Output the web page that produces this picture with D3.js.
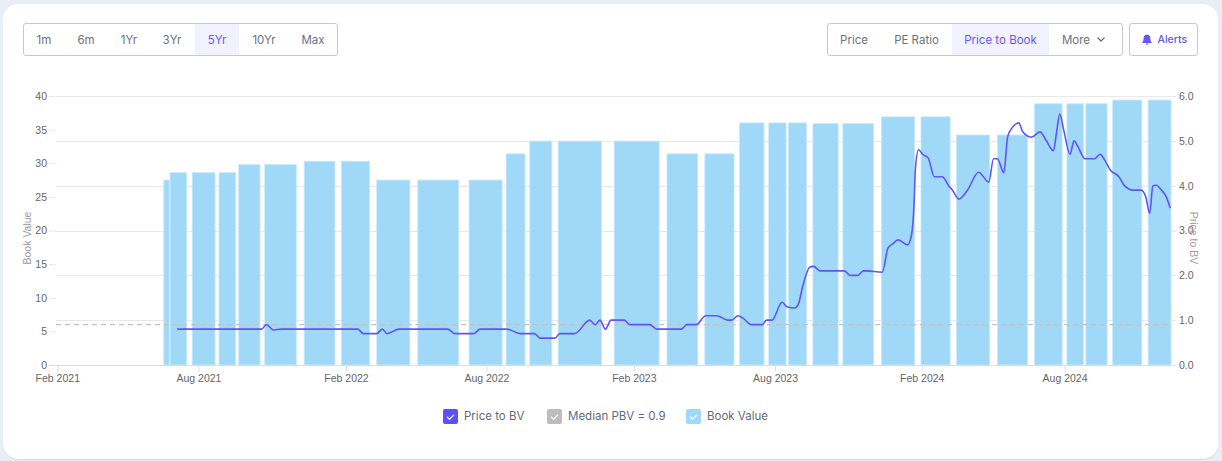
<!DOCTYPE html>
<meta charset="utf-8">
<style>
	html, body { margin: 0; padding: 0; background: #e9edf6; overflow: hidden; }
	svg { display: block; }
	text { font-family: Inter, "Noto Sans", sans-serif; }
	.axis text { font-family: "Liberation Sans", Arial, sans-serif; font-size: 10.5px; fill: #666; }
</style>
<body>
<svg id="chart" width="1222" height="461"></svg>
<script src="https://cdn.jsdelivr.net/npm/d3@7"></script>
<script>
	// first day of the x axis, everything below is counted in days from here
	var startDate = new Date(2021, 1, 1);
	var lastDay = 1412;

	var tickDays = [0, 179, 366, 544, 731, 910, 1096, 1277];
	var tickLabels = ["Feb 2021", "Aug 2021", "Feb 2022", "Aug 2022", "Feb 2023", "Aug 2023", "Feb 2024", "Aug 2024"];

	// book value bars
	var barStartDays = [135, 143, 171, 205, 230, 263, 313, 360, 405, 457, 522, 569, 599, 635, 706, 773, 821, 865, 902, 927, 958, 996, 1045, 1095, 1140, 1192, 1239, 1280, 1304, 1338, 1383];
	var barEndDays = [142, 164, 200, 226, 257, 303, 352, 396, 447, 509, 564, 593, 627, 690, 763, 812, 858, 896, 924, 950, 990, 1035, 1087, 1132, 1182, 1230, 1274, 1301, 1331, 1375, 1412];
	var bookValues = [27.5, 28.6, 28.6, 28.6, 29.8, 29.8, 30.3, 30.3, 27.5, 27.5, 27.5, 31.4, 33.3, 33.3, 33.3, 31.4, 31.4, 36, 36, 36, 35.9, 35.9, 36.9, 36.9, 34.2, 34.2, 38.85, 38.85, 38.85, 39.4, 39.4];

	// price to book line
	var priceDays = [152, 259, 265, 274, 284, 371, 381, 388, 405, 412, 418, 433, 495, 504, 528, 536, 570, 587, 605, 612, 631, 637, 656, 675, 682, 688, 695, 702, 719, 726, 751, 760, 791, 798, 810, 822, 836, 850, 855, 863, 869, 880, 894, 899, 906, 919, 925, 935, 940, 945, 954, 959, 967, 998, 1005, 1015, 1022, 1026, 1046, 1053, 1059, 1066, 1078, 1083, 1086, 1088, 1092, 1097, 1104, 1112, 1122, 1130, 1135, 1143, 1154, 1168, 1181, 1187, 1192, 1200, 1205, 1211, 1219, 1224, 1235, 1246, 1254, 1263, 1267, 1271, 1276, 1284, 1289, 1294, 1303, 1315, 1322, 1328, 1335, 1346, 1353, 1364, 1374, 1380, 1385, 1389, 1393, 1400, 1406, 1411];
	var priceToBv = [0.8, 0.8, 0.9, 0.78, 0.8, 0.8, 0.8, 0.7, 0.7, 0.8, 0.7, 0.8, 0.8, 0.7, 0.7, 0.8, 0.8, 0.7, 0.7, 0.6, 0.6, 0.7, 0.7, 1, 0.9, 1, 0.8, 1, 1, 0.9, 0.9, 0.8, 0.8, 0.9, 0.9, 1.1, 1.1, 1, 1, 1.1, 1.05, 0.9, 0.9, 1, 1, 1.4, 1.3, 1.27, 1.38, 1.75, 2.18, 2.2, 2.1, 2.1, 2, 2, 2.1, 2.1, 2.07, 2.6, 2.7, 2.79, 2.68, 2.9, 3.5, 4.4, 4.8, 4.7, 4.62, 4.2, 4.2, 4, 3.9, 3.7, 3.9, 4.3, 4.08, 4.6, 4.6, 4.29, 5.1, 5.3, 5.4, 5.2, 5.08, 5.2, 5, 4.78, 5.2, 5.6, 5.24, 4.7, 5, 4.87, 4.6, 4.6, 4.7, 4.57, 4.35, 4.2, 4, 3.9, 3.9, 3.75, 3.38, 4, 4.01, 3.9, 3.75, 3.5];
	var medianPbv = 0.9;

	var leftTicks = [0, 5, 10, 15, 20, 25, 30, 35, 40];
	var rightTicks = [0, 1, 2, 3, 4, 5, 6];

	var rangeLabels = ["1m", "6m", "1Yr", "3Yr", "5Yr", "10Yr", "Max"];
	var metricLabels = ["Price", "PE Ratio", "Price to Book", "More"];
	var legendLabels = ["Price to BV", "Median PBV = 0.9", "Book Value"];
	var legendColors = ["#5b52f5", "#bdbdbd", "#a0d8f7"];

	function toDate(day) { return d3.timeDay.offset(startDate, day); }

	var svg = d3.select("#chart");
	var purple = "#6457f7";

	// white card
	svg.append("rect").attr("x", 3).attr("y", 5).attr("width", 1215).attr("height", 455).attr("rx", 15).attr("fill", "#d5d9e8");
	svg.append("rect").attr("x", 3).attr("y", 4).attr("width", 1215).attr("height", 455).attr("rx", 15).attr("fill", "#fff");

	var x = d3.scaleTime().domain([startDate, toDate(lastDay)]).range([57.3, 1171]);
	var yLeft = d3.scaleLinear().domain([0, 40]).range([365, 96]);
	var yRight = d3.scaleLinear().domain([0, 6]).range([365, 96]);

	// grid comes from the right axis
	svg.append("g").selectAll("line").data(rightTicks.slice(1)).enter().append("line")
		.attr("x1", 56).attr("x2", 1176)
		.attr("y1", function (d) { return Math.round(yRight(d)) + 0.5; })
		.attr("y2", function (d) { return Math.round(yRight(d)) + 0.5; })
		.attr("stroke", "#e8e8e8");

	svg.append("g").selectAll("rect").data(bookValues).enter().append("rect")
		.attr("x", function (d, i) { return x(toDate(barStartDays[i])); })
		.attr("width", function (d, i) { return x(toDate(barEndDays[i])) - x(toDate(barStartDays[i])); })
		.attr("y", function (d) { return yLeft(d); })
		.attr("height", function (d) { return 365 - yLeft(d); })
		.attr("fill", "#a0d8f7")
		.attr("stroke", "#c8e9fb")
		.attr("stroke-width", 0.8);

	// axes
	var leftAxis = svg.append("g").attr("class", "axis").attr("transform", "translate(56,0)")
		.call(d3.axisLeft(yLeft).tickValues(leftTicks).tickSize(7).tickPadding(2));
	var rightAxis = svg.append("g").attr("class", "axis").attr("transform", "translate(1171,0)")
		.call(d3.axisRight(yRight).tickValues(rightTicks).tickSize(5).tickPadding(3));
	var bottomAxis = svg.append("g").attr("class", "axis").attr("transform", "translate(0,365.5)")
		.call(d3.axisBottom(x).tickValues(tickDays.map(toDate)).tickSize(6).tickPadding(3)
			.tickFormat(function (d, i) { return tickLabels[i]; }));
	leftAxis.select(".domain").remove();
	rightAxis.select(".domain").remove();
	bottomAxis.select(".domain").remove();
	leftAxis.selectAll("line").attr("stroke", "#e8e8e8");
	rightAxis.selectAll("line").attr("stroke", "#e8e8e8");
	bottomAxis.selectAll("line").attr("stroke", "#dcdcdc");
	svg.append("line").attr("x1", 49).attr("x2", 1171).attr("y1", 365.5).attr("y2", 365.5).attr("stroke", "#dcdcdc");

	// median and price line
	svg.append("line").attr("x1", 56).attr("x2", 1171)
		.attr("y1", yRight(medianPbv)).attr("y2", yRight(medianPbv))
		.attr("stroke", "#c4c4c4").attr("stroke-width", 1.2).attr("stroke-dasharray", "5,4");

	var priceLine = d3.line()
		.x(function (d, i) { return x(toDate(priceDays[i])); })
		.y(function (d) { return yRight(d); })
		.curve(d3.curveMonotoneX);
	svg.append("path").attr("d", priceLine(priceToBv))
		.attr("fill", "none").attr("stroke", "#5f55f5").attr("stroke-width", 1.6);

	// axis titles
	svg.append("text").attr("transform", "translate(31,238) rotate(-90)").attr("text-anchor", "middle")
		.style("font-family", "'Liberation Sans', Arial, sans-serif").style("font-size", "10.5px").attr("fill", "#9a9aa8").text("Book Value");
	svg.append("text").attr("transform", "translate(1190,238) rotate(90)").attr("text-anchor", "middle")
		.style("font-family", "'Liberation Sans', Arial, sans-serif").style("font-size", "10.5px").attr("fill", "#a89d96").text("Price to BV");

	// button groups
	function box(x0, w) {
		svg.append("rect").attr("x", x0).attr("y", 23.5).attr("width", w).attr("height", 32).attr("rx", 2.5)
			.attr("fill", "none").attr("stroke", "#c9c9cc");
	}
	function buttonText(cx, label, active, anchor) {
		return svg.append("text").attr("x", cx).attr("y", 43.5).attr("text-anchor", anchor || "middle")
			.style("font-size", "11.5px").attr("fill", active ? purple : "#6b7280").text(label);
	}

	svg.append("rect").attr("x", 195).attr("y", 24).attr("width", 44).attr("height", 31).attr("fill", "#f2f1fe");
	svg.append("rect").attr("x", 952).attr("y", 24).attr("width", 97).attr("height", 31).attr("fill", "#f2f1fe");
	box(23.5, 314);
	box(827.5, 295);
	box(1129.5, 68);

	var rangeCenters = [44, 86, 129, 172, 217, 264, 313];
	rangeLabels.forEach(function (label, i) { buttonText(rangeCenters[i], label, label == "5Yr"); });

	var metricCenters = [854, 916.5, 1000.5, 1076];
	metricLabels.forEach(function (label, i) { buttonText(metricCenters[i], label, label == "Price to Book"); });

	// chevron on More
	svg.append("path").attr("d", "M1097.5 37.5 L1101 41 L1104.5 37.5").attr("fill", "none").attr("stroke", "#6b7280").attr("stroke-width", 1.3);

	// bell on Alerts
	svg.append("path").attr("d", "M1147 34.5 c-2.4 0 -3.4 1.8 -3.4 4 c0 2 -0.5 3 -1.3 3.8 v0.7 h9.4 v-0.7 c-0.8 -0.8 -1.3 -1.8 -1.3 -3.8 c0 -2.2 -1 -4 -3.4 -4 z M1145.7 43.5 h2.6 a1.3 1.3 0 0 1 -2.6 0 z").attr("fill", purple);
	svg.append("text").attr("x", 1157.5).attr("y", 43.3).style("font-size", "10.5px").style("font-weight", 500).attr("fill", purple).text("Alerts");

	// legend
	var legendBoxX = [443, 547, 686];
	legendLabels.forEach(function (label, i) {
		var bx = legendBoxX[i];
		svg.append("rect").attr("x", bx).attr("y", 409).attr("width", 15).attr("height", 15).attr("rx", 2).attr("fill", legendColors[i]);
		svg.append("path").attr("d", "M" + (bx + 4) + " 416.8 l2.5 2.5 l4.5 -4.5").attr("fill", "none").attr("stroke", "#fff").attr("stroke-width", 1.3).attr("opacity", 0.85);
		svg.append("text").attr("x", bx + 21).attr("y", 420).style("font-size", "11.5px").attr("fill", "#5f6b7d").text(label);
	});
</script>
</body>
